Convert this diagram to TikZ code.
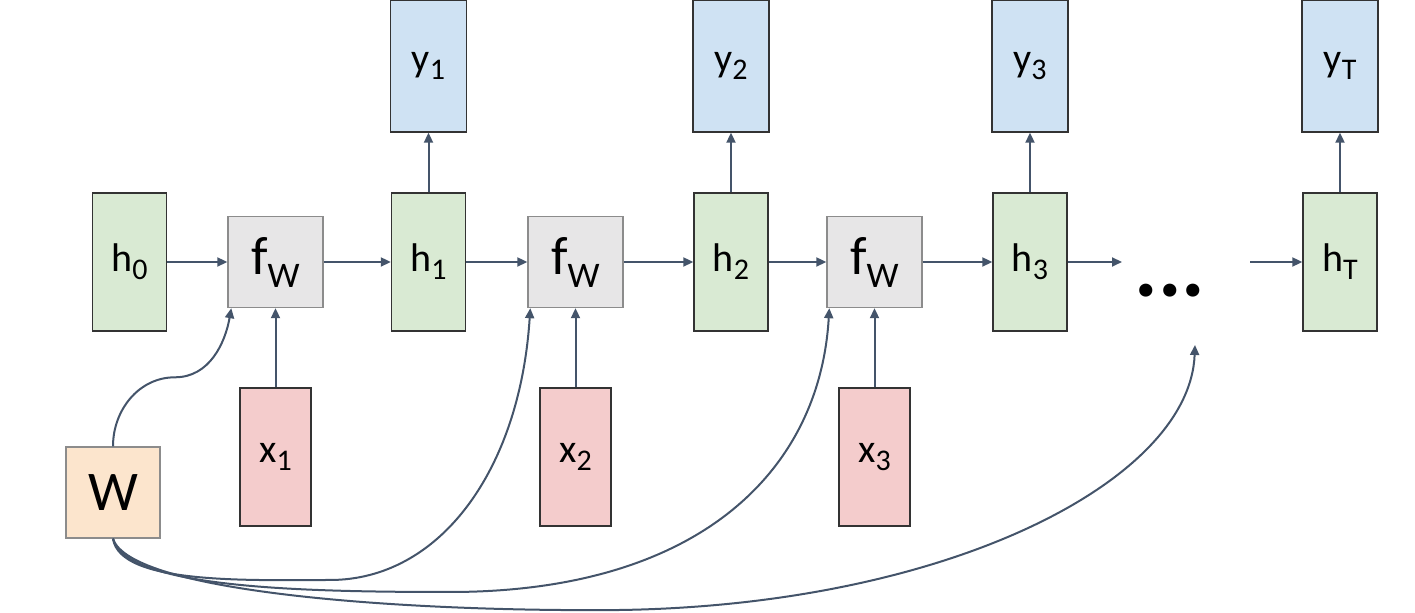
\documentclass[tikz,border=0pt]{standalone}
\usepackage{fontspec}
\setmainfont{Carlito}
\usetikzlibrary{arrows.meta}

\definecolor{hfill}{HTML}{D9EAD3}
\definecolor{yfill}{HTML}{CFE2F3}
\definecolor{xfill}{HTML}{F4CCCC}
\definecolor{wfill}{HTML}{FCE5CD}
\definecolor{ffill}{HTML}{E7E6E7}
\definecolor{arrowc}{HTML}{44546A}

\newcommand{\sbs}[1]{\raisebox{-4pt}{\fontsize{15}{15}\selectfont #1}}
\newcommand{\sbw}[1]{\raisebox{-6.5pt}{\fontsize{18}{18}\selectfont #1}}

\begin{document}
\begin{tikzpicture}[x=0.5pt, y=-0.5pt, >={Triangle[length=5pt,width=4.5pt]},
  every node/.style={draw=black!80, line width=0.7pt, inner sep=0pt,
    font=\fontsize{20}{24}\selectfont},
  hbox/.style={fill=hfill, minimum width=37pt, minimum height=69pt},
  ybox/.style={fill=yfill, minimum width=38pt, minimum height=66pt},
  xbox/.style={fill=xfill, minimum width=35.5pt, minimum height=69pt},
  fbox/.style={fill=ffill, draw=black!45, minimum width=47.5pt, minimum height=45.5pt},
  wbox/.style={fill=wfill, draw=black!45, minimum width=47pt, minimum height=45.5pt},
  link/.style={->, draw=arrowc, line width=1pt}]
  \useasboundingbox (0,0) rectangle (1415,613);
  \clip (0,0) rectangle (1415,613);

  \node[hbox] (h0) at (129.5,262) {h\sbs{0}};
  \foreach \i/\fx/\hx in {1/275.5/428.5, 2/575.5/731, 3/874.5/1030} {
    \node[fbox] (f\i) at (\fx,262) {\fontsize{27}{28}\selectfont f\sbw{W}};
    \node[hbox] (h\i) at (\hx,262) {h\sbs{\i}};
    \node[xbox] (x\i) at (\fx,457) {x\sbs{\i}};
    \node[ybox] (y\i) at (\hx,66) {y\sbs{\i}};
    \draw[link] (f\i) -- (h\i);
    \draw[link] (x\i) -- (f\i);
    \draw[link] (h\i) -- (y\i);
  }
  \node[draw=none, font=\fontsize{44}{44}\selectfont\bfseries] (dots) at (1170,291) {...};
  \node[hbox] (hT) at (1340,262) {h\sbs{T}};
  \node[ybox] (yT) at (1340,66) {y\sbs{T}};
  \node[wbox] (w) at (113,492.5) {\fontsize{28}{28}\selectfont W};

  \coordinate (hend) at (1122,262);
  \coordinate (hstart) at (1250,262);
  \coordinate (dotsin) at (1195,345);

  \draw[link] (h0) -- (f1);
  \draw[link] (h1) -- (f2);
  \draw[link] (h2) -- (f3);
  \draw[link] (h3) -- (hend);
  \draw[link] (hstart) -- (hT);
  \draw[link] (hT) -- (yT);

  % shared weights
  \draw[link] (w.north) to[out=90,in=180] ++(62,-69)
    to[out=0,in=-100] ([xshift=2pt]f1.south west);
  \draw[link] (w.south) .. controls (120,585) and (250,580) .. (330,580)
    .. controls (440,580) and (520,470) .. ([xshift=1.5pt]f2.south west);
  \draw[link] (w.south) .. controls (125,588) and (300,592) .. (450,592)
    .. controls (700,592) and (820,470) .. ([xshift=1.5pt]f3.south west);
  \draw[link] (w.south) .. controls (130,592) and (400,612) .. (620,610)
    .. controls (950,605) and (1190,480) .. (dotsin);
\end{tikzpicture}
\end{document}
